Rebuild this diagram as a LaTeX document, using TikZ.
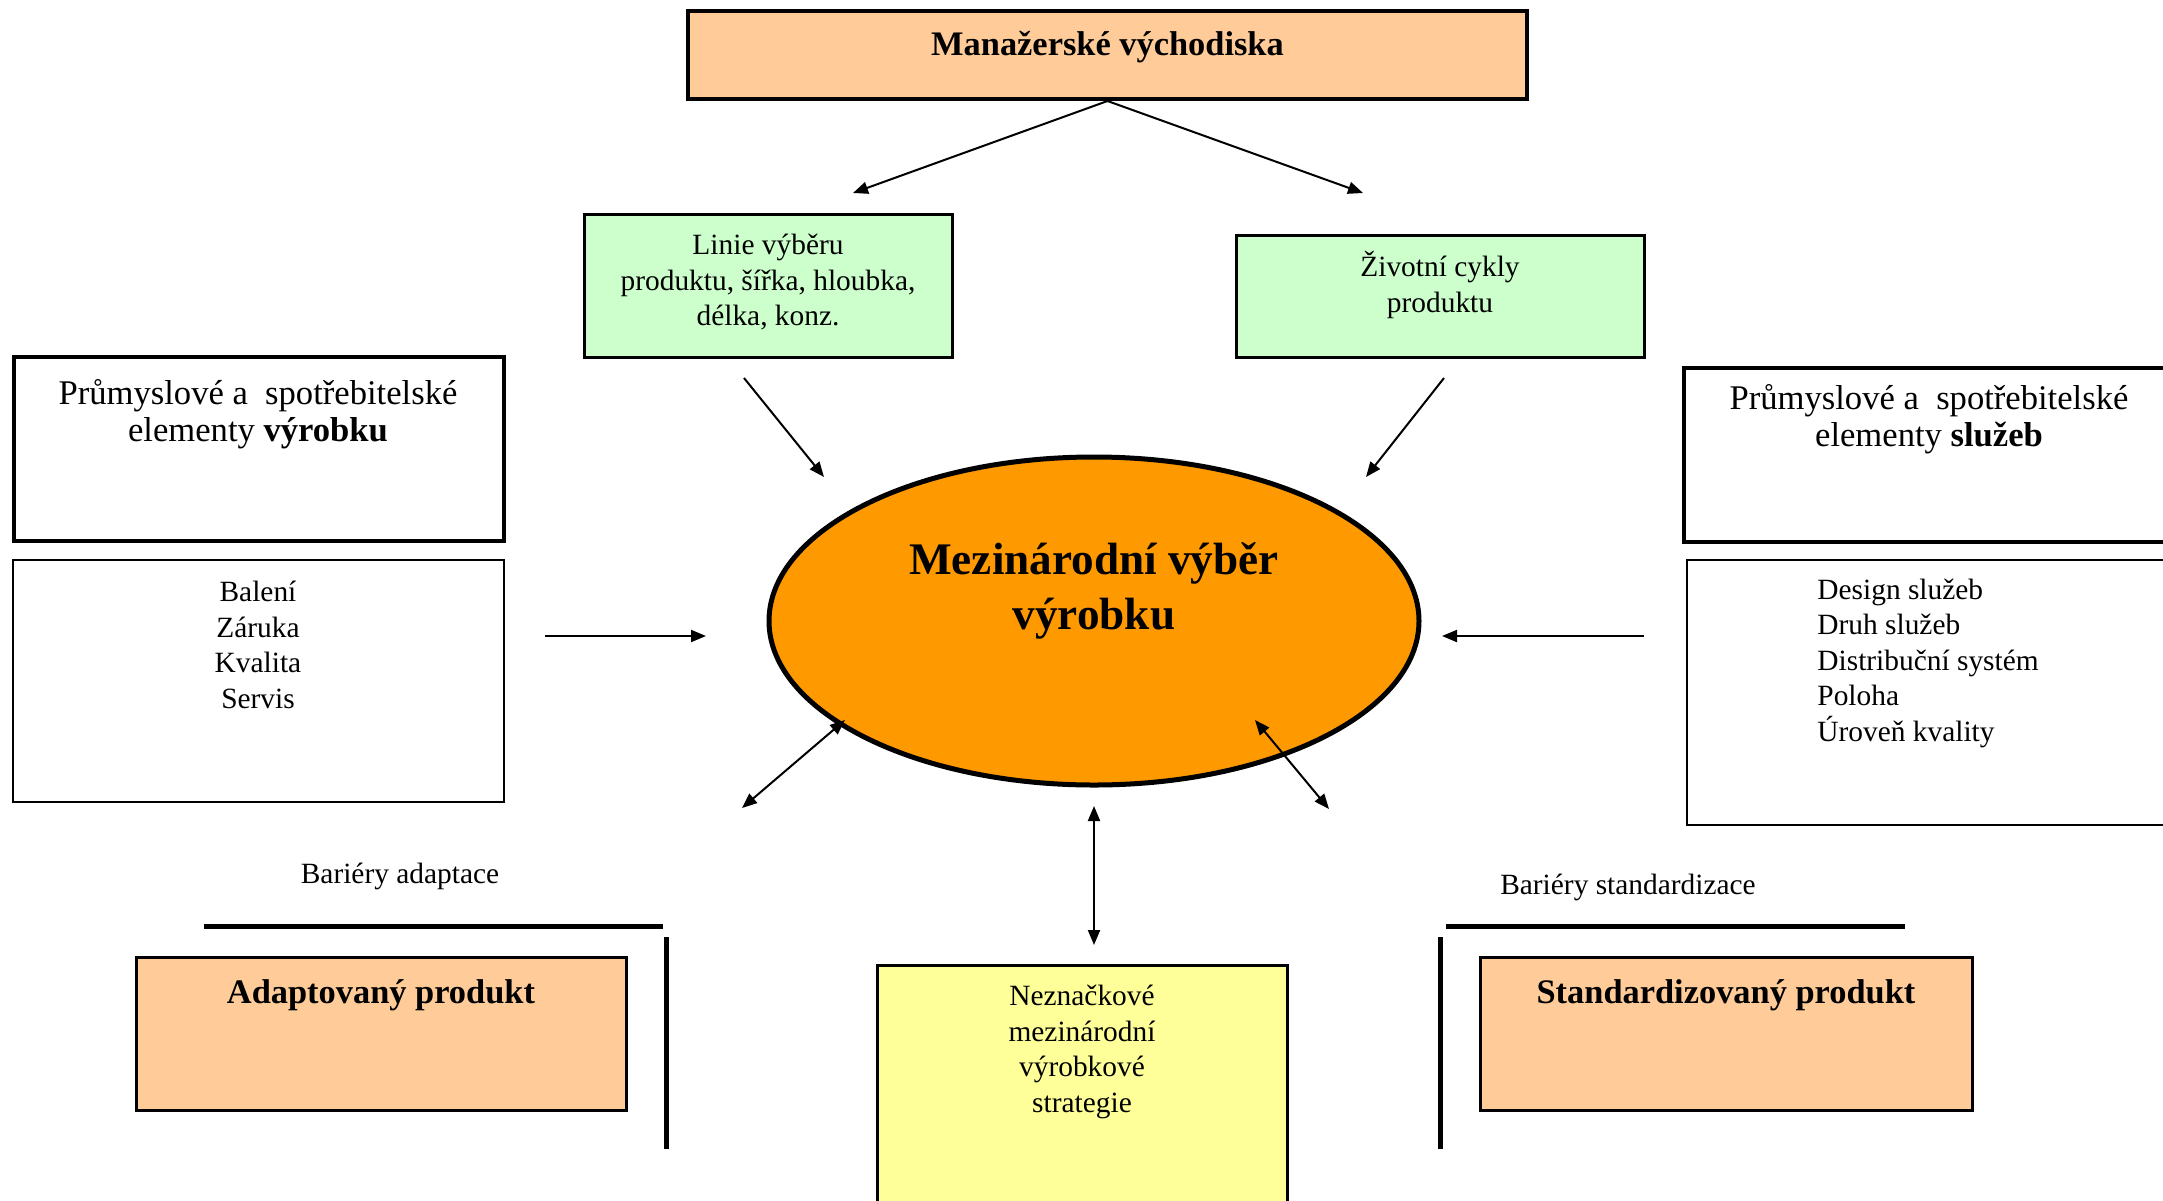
\documentclass[tikz,border=0pt]{standalone}
\usepackage{fontspec}
\setmainfont{Liberation Serif}
\usetikzlibrary{arrows.meta,shapes.geometric}
\definecolor{peach}{HTML}{FFCC99}
\definecolor{mint}{HTML}{CCFFCC}
\definecolor{orng}{HTML}{FF9900}
\definecolor{lyellow}{HTML}{FFFF99}
\begin{document}
\begin{tikzpicture}[x=0.5pt,y=-0.5pt,
  box/.style={draw, line width=1.5pt, inner sep=0pt},
  thinbox/.style={draw, line width=0.75pt, inner sep=0pt},
  txt/.style={inner sep=0pt, align=center, font=\fontsize{14.7}{17.75}\selectfont},
  txtl/.style={inner sep=0pt, align=left, font=\fontsize{14.7}{17.75}\selectfont},
  bigtxt/.style={inner sep=0pt, align=center, font=\fontsize{17.3}{18.5}\selectfont},
  boldtxt/.style={inner sep=0pt, align=center, font=\fontsize{17.2}{20}\selectfont\bfseries},
  coretxt/.style={inner sep=0pt, align=center, font=\fontsize{22.6}{27.5}\selectfont\bfseries},
  arr/.style={line width=1pt, -{Triangle[length=7.5pt,width=6pt]}},
  darr/.style={line width=1pt, {Triangle[length=7.5pt,width=6pt]}-{Triangle[length=7.5pt,width=6pt]}},
  barrier/.style={line width=2.5pt}]
\clip (0,0) rectangle (2163,1200);
\fill[white] (0,0) rectangle (2163,1200);

% boxes
\node[box, line width=2pt, fill=peach, minimum width=419.5pt, minimum height=44pt] (top) at (1107.5,55) {};
\node[boldtxt] (topt) at (1107.5,47) {Manažerské východiska};

\node[box, fill=mint, minimum width=184pt, minimum height=71.5pt] (linie) at (768,285.5) {};
\node[txt] (liniet) at (768,282.5) {Linie výběru\\produktu, šířka, hloubka,\\délka, konz.};

\node[box, fill=mint, minimum width=204pt, minimum height=61pt] (zivot) at (1440,296) {};
\node[txt] (zivott) at (1440,285) {Životní cykly\\produktu};

\node[box, line width=2pt, minimum width=245pt, minimum height=92pt] (lt) at (259,449) {};
\node[bigtxt] (ltt) at (258,414.5) {Průmyslové a\ \ spotřebitelské\\elementy \textbf{výrobku}};

\node[thinbox, minimum width=245.5pt, minimum height=121pt] (lb) at (258.5,681) {};
\node[txt] (lbt) at (258,645) {Balení\\Záruka\\Kvalita\\Servis};

\node[box, line width=2pt, minimum width=245pt, minimum height=87pt] (rt) at (1929,455) {};
\node[bigtxt] (rtt) at (1929,419.5) {Průmyslové a\ \ spotřebitelské\\elementy \textbf{služeb}};

\node[thinbox, minimum width=245pt, minimum height=132.5pt] (rb) at (1932,692.5) {};
\node[txtl, anchor=west] (rbt) at (1817,663) {Design služeb\\Druh služeb\\Distribuční systém\\Poloha\\Úroveň kvality};

\node[ellipse, draw, line width=2.5pt, fill=orng, minimum width=325pt, minimum height=164pt, inner sep=0pt] (core) at (1094,621) {};
\node[coretxt] (coret) at (1094,591) {Mezinárodní výběr\\výrobku};

\node[box, fill=peach, minimum width=245pt, minimum height=76.5pt] (adapt) at (381.5,1033.5) {};
\node[boldtxt] (adaptt) at (381,995) {Adaptovaný produkt};

\node[box, fill=peach, minimum width=246pt, minimum height=76.5pt] (stand) at (1726.5,1033.5) {};
\node[boldtxt] (standt) at (1726,995) {Standardizovaný produkt};

\node[box, fill=lyellow, minimum width=205pt, minimum height=125pt] (nezn) at (1082,1090) {};
\node[txt] (neznt) at (1082,1052) {Neznačkové\\mezinárodní\\výrobkové\\strategie};

% barrier labels and lines
\node[txt] (bad) at (400,876) {Bariéry adaptace};
\node[txt] (bst) at (1628,887) {Bariéry standardizace};
\draw[barrier] (204,926) -- (663,926);
\draw[barrier] (666,937) -- (666,1149);
\draw[barrier] (1446,926) -- (1905,926);
\draw[barrier] (1440,937) -- (1440,1149);

% free arrow ends
\coordinate (e1) at (853,193);
\coordinate (e2) at (1363,193);
\coordinate (s3) at (744,378);
\coordinate (e3) at (824,477);
\coordinate (s4) at (1444,378);
\coordinate (e4) at (1366,477);
\coordinate (s5) at (545,636);
\coordinate (e5) at (706,636);
\coordinate (s6) at (1644,636);
\coordinate (e6) at (1442,636);
\coordinate (a1) at (742,808);
\coordinate (a2) at (845,720);
\coordinate (b1) at (1255,720);
\coordinate (b2) at (1329,809);
\coordinate (c1) at (1094,806);
\coordinate (c2) at (1094,945);

\draw[arr] (top.south) -- (e1);
\draw[arr] (top.south) -- (e2);
\draw[arr] (s3) -- (e3);
\draw[arr] (s4) -- (e4);
\draw[arr] (s5) -- (e5);
\draw[arr] (s6) -- (e6);
\draw[darr] (a1) -- (a2);
\draw[darr] (b1) -- (b2);
\draw[darr] (c1) -- (c2);
\end{tikzpicture}
\end{document}
